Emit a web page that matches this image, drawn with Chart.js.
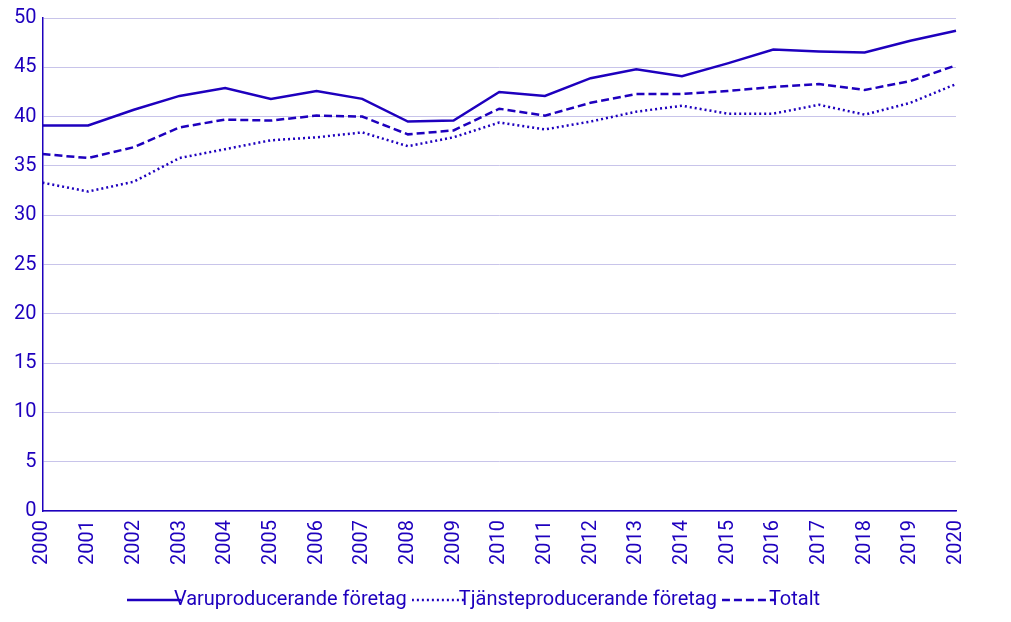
<!DOCTYPE html>
<html><head><meta charset="utf-8">
<script src="https://cdn.jsdelivr.net/npm/chart.js@4"></script>
<style>html,body{margin:0;background:#fff}#w{width:1011px;height:622px}</style>
</head><body><div id="w"><canvas id="c"></canvas></div>
<script>
const years=['2000','2001','2002','2003','2004','2005','2006','2007','2008','2009','2010','2011','2012','2013','2014','2015','2016','2017','2018','2019','2020'];
const varu=[39.1,39.1,40.7,42.1,42.9,41.8,42.6,41.8,39.5,39.6,42.5,42.1,43.9,44.8,44.1,45.4,46.8,46.6,46.5,47.7,48.7];
const tjanste=[33.3,32.4,33.4,35.8,36.7,37.6,37.9,38.4,37.0,37.9,39.4,38.7,39.5,40.5,41.1,40.3,40.3,41.2,40.2,41.4,43.3];
const totalt=[36.2,35.8,36.9,38.9,39.7,39.6,40.1,40.0,38.2,38.6,40.8,40.1,41.4,42.3,42.3,42.6,43.0,43.3,42.7,43.6,45.2];
const col='#1e00be';
function swatch(dash){const c=document.createElement('canvas');c.width=54;c.height=6;const x=c.getContext('2d');x.strokeStyle=col;x.lineWidth=2.5;x.setLineDash(dash);x.beginPath();x.moveTo(0,3);x.lineTo(54,3);x.stroke();return c;}
Chart.defaults.font.family='Roboto';Chart.defaults.font.size=20;Chart.defaults.color=col;
const ds=(l,d,dash)=>({label:l,data:d,borderColor:col,backgroundColor:col,borderWidth:2.5,borderDash:dash,pointRadius:0,pointStyle:swatch(dash),tension:0,fill:false});
new Chart(document.getElementById('c'),{type:'line',
data:{labels:years,datasets:[ds('Varuproducerande företag',varu,[]),ds('Tjänsteproducerande företag',tjanste,[2,3]),ds('Totalt',totalt,[8,4])]},
options:{responsive:true,maintainAspectRatio:false,animation:false,
layout:{padding:{top:12,right:55,left:8,bottom:2}},
plugins:{legend:{position:'bottom',labels:{usePointStyle:true,padding:22,font:{size:20}}},tooltip:{enabled:false}},
scales:{x:{offset:false,grid:{display:false,drawTicks:true,tickLength:6,color:col},border:{color:col,width:1.5},ticks:{maxRotation:90,minRotation:90,autoSkip:false,color:col}},
y:{min:0,max:50,ticks:{stepSize:5,color:col,padding:6},grid:{color:'#c8c4ea',drawTicks:false},border:{color:col,width:1.5}}}}});
</script></body></html>
